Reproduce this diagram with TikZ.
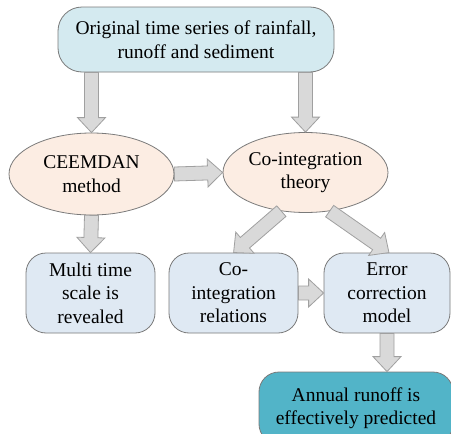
\documentclass[tikz,border=0pt]{standalone}
\usepackage{fontspec}
\setmainfont{Liberation Serif}
\usetikzlibrary{shapes.geometric,calc}
\definecolor{topfill}{HTML}{D4EAF0}
\definecolor{ellfill}{HTML}{FCEDE3}
\definecolor{boxfill}{HTML}{DFE9F3}
\definecolor{endfill}{HTML}{52B4C8}
\definecolor{edge}{HTML}{7A7A7A}
\definecolor{arrfill}{HTML}{D9D9D9}
\definecolor{arredge}{HTML}{A0A0A0}
\tikzset{
  base/.style={draw=edge, line width=0.8pt, align=center, inner sep=0pt,
    font=\fontsize{19.5}{23.5}\selectfont, text=black},
  rbox/.style={base, rectangle, rounded corners=20pt, fill=boxfill},
  ell/.style={base, ellipse, fill=ellfill},
  blk/.style={fill=arrfill, draw=arredge, line width=0.8pt, line join=miter}
}
\newcommand\blockarr[2]{%
  \draw[blk] let \p1=#1, \p2=#2, \n1={atan2(\y2-\y1,\x2-\x1)},
    \n2={veclen(\x2-\x1,\y2-\y1)} in
    [shift={(\p1)}, rotate=\n1]
    (0pt,-7pt) -- ({\n2*1pt-15pt},-7pt) -- ({\n2*1pt-15pt},-14pt) --
    ({\n2*1pt},0pt) -- ({\n2*1pt-15pt},14pt) -- ({\n2*1pt-15pt},7pt) --
    (0pt,7pt) -- cycle;}
\begin{document}
\begin{tikzpicture}[x=1pt,y=-1pt]
\useasboundingbox[fill=white] (0,0) rectangle (451,434);
\node[rbox, fill=topfill, minimum width=276pt, minimum height=65pt, rounded corners=24pt]
  (top) at (196,39.5) {Original time series of rainfall,\\runoff and sediment};
\node[ell, minimum width=165pt, minimum height=82pt] (ceem) at (91.5,174) {CEEMDAN\\method};
\node[ell, minimum width=165pt, minimum height=80pt] (coint) at (305.5,172.5) {Co-integration\\theory};
\node[rbox, minimum width=129pt, minimum height=80pt] (multi) at (90.5,293) {Multi time\\scale is\\revealed};
\node[rbox, minimum width=129pt, minimum height=80pt] (rel) at (233.5,293) {Co-\\integration\\relations};
\node[rbox, minimum width=126pt, minimum height=80pt] (err) at (387,293) {Error\\correction\\model};
\node[rbox, fill=endfill, minimum width=194pt, minimum height=72pt] (ann) at (356,408) {Annual runoff is\\effectively predicted};
% arrows
\coordinate (t1) at (top.south -| ceem.north);
\coordinate (t2) at (top.south -| coint.north);
\blockarr{(t1)}{(ceem.north)}
\blockarr{(t2)}{(coint.north)}
\blockarr{(ceem.east)}{(coint.west)}
\blockarr{(ceem.south)}{(multi.north)}
\blockarr{(coint.-122)}{(rel.north)}
\blockarr{(coint.-58)}{($(err.north)+(2,0)$)}
\blockarr{(rel.east)}{(err.west)}
\coordinate (e1) at (err.south);
\blockarr{(e1)}{(e1 |- ann.north)}
\end{tikzpicture}
\end{document}
